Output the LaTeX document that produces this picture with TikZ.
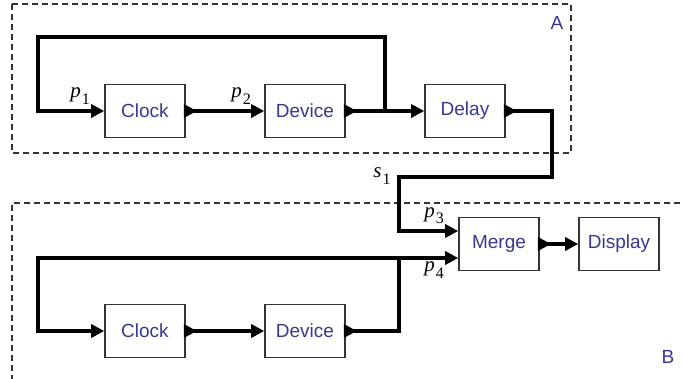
\documentclass[tikz,border=0pt]{standalone}
\usepackage{fontspec}
\setmainfont{Liberation Sans}
\newfontfamily\serifl{Liberation Serif}
\usetikzlibrary{arrows.meta}
\definecolor{txtblue}{RGB}{55,55,150}
\newcommand\plab[2]{{\serifl\itshape #1}\kern1pt\raisebox{-0.55ex}{\fontsize{16}{16}\selectfont\serifl #2}}
\begin{document}
\begin{tikzpicture}[x=1pt,y=-1pt,
  blk/.style={draw=black!80,line width=1.6pt,minimum width=80pt,minimum height=53pt,inner sep=0pt,font=\fontsize{19}{19}\selectfont,text=txtblue},
  conn/.style={line width=3.2pt},
  arr/.style={conn,-{Triangle[length=13pt,width=13pt]}},
  region/.style={dash pattern=on 6pt off 4pt,line width=1.2pt,draw=black!80},
  lbl/.style={font=\fontsize{21}{21}\selectfont,inner sep=0pt},
  reglbl/.style={font=\fontsize{19}{19}\selectfont,text=txtblue,inner sep=0pt}]
\useasboundingbox (0,0) rectangle (683,378);
\clip (0,0) rectangle (683,378);
% regions
\draw[region] (12,4) rectangle (571,153);
\draw[region] (690,203) -- (12,203) -- (12,390);
\node[reglbl] (labA) at (557,23) {A};
\node[reglbl] (labB) at (668,357) {B};
% blocks
\node[blk] (clk1) at (145,111) {Clock};
\node[blk] (dev1) at (305,111) {Device};
\node[blk] (delay) at (465,111) {Delay};
\node[blk] (merge) at (499,244) {Merge};
\node[blk] (disp) at (619,244) {Display};
\node[blk] (clk2) at (145,331) {Clock};
\node[blk] (dev2) at (305,331) {Device};
% output ports
\foreach \n in {clk1,dev1,delay,merge,clk2,dev2}
  \fill ([xshift=-2pt,yshift=7pt]\n.east) -- ([xshift=-2pt,yshift=-7pt]\n.east) -- ([xshift=11pt]\n.east) -- cycle;
% coordinates
\coordinate (j1) at (385,111);
\coordinate (t1) at (385,37);
\coordinate (t2) at (38,37);
\coordinate (t3) at (38,111);
\coordinate (d1) at (552,111);
\coordinate (d2) at (552,177);
\coordinate (d3) at (399,177);
\coordinate (d4) at (399,231);
\coordinate (j2) at (399,258);
\coordinate (b1) at (399,331);
\coordinate (b2) at (38,258);
\coordinate (b3) at (38,331);
% connectors top
\draw[arr] (clk1.east) -- (dev1.west);
\draw[arr] (dev1.east) -- (delay.west);
\draw[arr] (j1) -- (t1) -- (t2) -- (t3) -- (clk1.west);
\draw[arr] (delay.east) -- (d1) -- (d2) -- (d3) -- (d4) -- (d4 -| merge.west);
\draw[arr] (merge.east) -- (disp.west);
% connectors bottom
\draw[arr] (clk2.east) -- (dev2.west);
\draw[conn] (dev2.east) -- (b1) -- (j2);
\draw[arr] (j2) -- (j2 -| merge.west);
\draw[arr] (j2) -- (b2) -- (b3) -- (clk2.west);
% labels
\node[lbl] (lp1) at (80,96) {\plab{p}{1}};
\node[lbl] (lp2) at (241,96) {\plab{p}{2}};
\node[lbl] (ls1) at (382,176) {\plab{s}{1}};
\node[lbl] (lp3) at (434,216) {\plab{p}{3}};
\node[lbl] (lp4) at (434,270) {\plab{p}{4}};
\end{tikzpicture}
\end{document}
